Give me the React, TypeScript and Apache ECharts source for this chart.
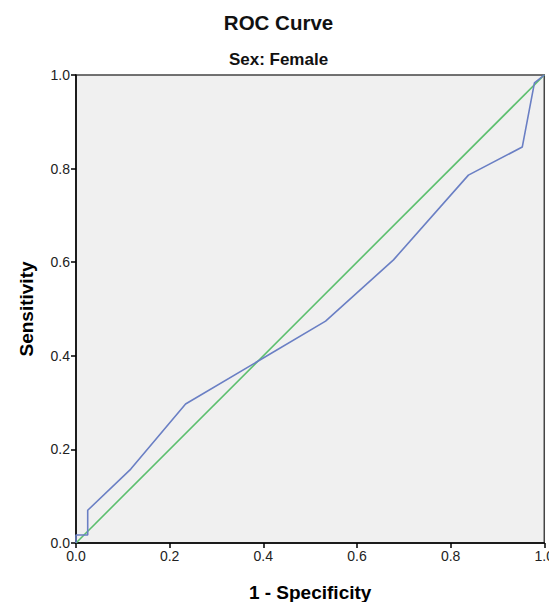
import React, { useEffect, useRef } from "react";
import * as echarts from "echarts";

const rocX = [0, 0, 0.025, 0.025, 0.117, 0.234, 0.533, 0.678, 0.838, 0.953, 0.979, 1];
const rocY = [0, 0.017, 0.017, 0.07, 0.158, 0.297, 0.474, 0.605, 0.786, 0.846, 0.983, 1];
const refX = [0, 1];
const refY = [0, 1];

const FONT = "'Liberation Sans', Arial, sans-serif";

export default function App() {
  const ref = useRef<HTMLDivElement>(null);
  useEffect(() => {
    if (!ref.current) return;
    const chart = echarts.init(ref.current, undefined, { renderer: "svg" });
    const axisCommon = {
      type: "value" as const,
      min: 0,
      max: 1,
      interval: 0.2,
      axisLine: { show: true, lineStyle: { color: "#000", width: 1.5 } },
      axisTick: { show: true, length: 5, lineStyle: { color: "#000", width: 1.5 } },
      splitLine: { show: false },
      axisLabel: {
        color: "#222",
        fontSize: 14,
        fontFamily: FONT,
        margin: 6,
        formatter: (v: number) => v.toFixed(1),
      },
      nameLocation: "middle" as const,
      nameTextStyle: { color: "#000", fontSize: 19, fontWeight: "bold" as const, fontFamily: FONT },
    };
    chart.setOption({
      animation: false,
      backgroundColor: "#fff",
      title: [
        {
          text: "ROC Curve",
          left: "center",
          top: 7,
          textStyle: { fontSize: 20.5, fontWeight: "bold", color: "#111", fontFamily: FONT },
        },
        {
          text: "Sex: Female",
          left: "center",
          top: 46,
          textStyle: { fontSize: 17, fontWeight: "bold", color: "#111", fontFamily: FONT },
        },
      ],
      grid: {
        left: 76,
        right: 12,
        top: 75,
        bottom: 67,
        show: true,
        backgroundColor: "#f0f0f0",
        borderColor: "#444",
        borderWidth: 1.5,
      },
      xAxis: { ...axisCommon, name: "1 - Specificity", nameGap: 40 },
      yAxis: { ...axisCommon, name: "Sensitivity", nameGap: 40 },
      series: [
        {
          type: "line",
          data: refX.map((x, i) => [x, refY[i]]),
          symbol: "none",
          lineStyle: { color: "#5cbf6e", width: 1.6 },
          z: 2,
        },
        {
          type: "line",
          data: rocX.map((x, i) => [x, rocY[i]]),
          symbol: "none",
          lineStyle: { color: "#6a7fc4", width: 1.6 },
          z: 3,
        },
      ],
    });
    return () => chart.dispose();
  }, []);
  return <div ref={ref} style={{ width: 557, height: 610, margin: -8 }} />;
}
